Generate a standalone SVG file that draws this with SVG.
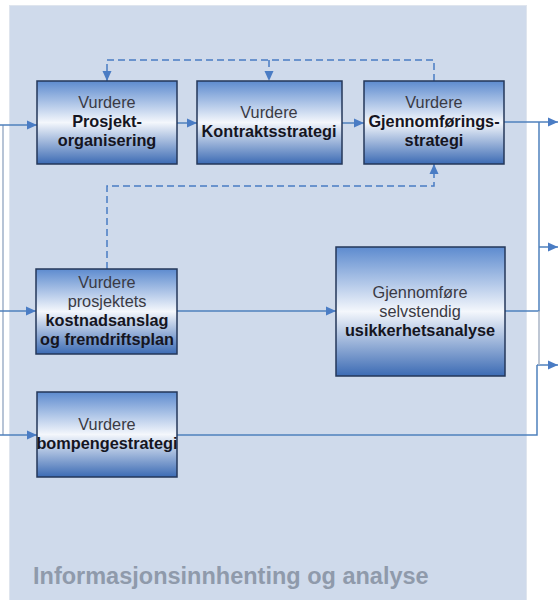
<svg xmlns="http://www.w3.org/2000/svg" width="559" height="600" viewBox="0 0 559 600">
<defs>
<linearGradient id="boxg" x1="0" y1="0" x2="0" y2="1">
<stop offset="0" stop-color="#5d8bcf"/>
<stop offset="0.5" stop-color="#f4f7fc"/>
<stop offset="1" stop-color="#3c6bb4"/>
</linearGradient>
<marker id="arr" markerUnits="userSpaceOnUse" markerWidth="11" markerHeight="11" refX="10" refY="5.5" orient="auto">
<path d="M0,1 L10,5.5 L0,10 z" fill="#4a7cc4"/>
</marker>
<style>
.box{fill:url(#boxg);stroke:#25375a;stroke-width:1.5}
.t{font-family:"Liberation Sans",Arial,sans-serif;font-size:16.3px;fill:#3a3a44;text-anchor:middle}
.b{font-weight:bold;fill:#15151f}
.c{fill:none;stroke:#4f81bd;stroke-width:1.5}
.d{fill:none;stroke:#4a7cc4;stroke-width:1.5;stroke-dasharray:7 4}
</style>
</defs>
<rect x="0" y="0" width="559" height="600" fill="#ffffff"/>
<rect x="9.5" y="5.5" width="517" height="600" fill="#cfdaeb" stroke="#dfe5ee" stroke-width="1"/>
<g id="connectors">
<path class="c" d="M3,125 V435" style="stroke:#9fb0c8"/>
<path class="c" d="M0,125 H37" marker-end="url(#arr)"/>
<path class="c" d="M0,311 H36" marker-end="url(#arr)"/>
<path class="c" d="M0,435 H37" marker-end="url(#arr)"/>
<path class="c" d="M177,123 H197" marker-end="url(#arr)"/>
<path class="c" d="M342,123 H364" marker-end="url(#arr)"/>
<path class="c" d="M504,122 H558" marker-end="url(#arr)"/>
<path class="c" d="M539,122 V311 H505"/>
<path class="c" d="M539,247 H558" marker-end="url(#arr)"/>
<path class="c" d="M177,311 H336" marker-end="url(#arr)"/>
<path class="c" d="M177,435 H537 V365"/>
<path class="c" d="M537,365 H558" marker-end="url(#arr)"/>
<path class="c" d="M539,311 V365" style="stroke:#a8b4c6"/>
<path class="d" d="M434,81 V60 H107 V81" marker-end="url(#arr)"/>
<path class="d" d="M269,60 V81" marker-end="url(#arr)"/>
<path class="d" d="M107,269 V186 H434 V164" marker-end="url(#arr)"/>
</g>
<g id="node-prosjektorganisering">
<rect class="box" x="37" y="81" width="140" height="83"/>
<text class="t" x="107" y="108">Vurdere</text>
<text class="t b" x="107" y="127">Prosjekt-</text>
<text class="t b" x="107" y="146">organisering</text>
</g>
<g id="node-kontraktsstrategi">
<rect class="box" x="197" y="81" width="145" height="83"/>
<text class="t" x="269" y="118">Vurdere</text>
<text class="t b" x="269" y="137">Kontraktsstrategi</text>
</g>
<g id="node-gjennomforingsstrategi">
<rect class="box" x="364" y="81" width="140" height="83"/>
<text class="t" x="434" y="108">Vurdere</text>
<text class="t b" x="434" y="127">Gjennomførings-</text>
<text class="t b" x="434" y="146">strategi</text>
</g>
<g id="node-kostnadsanslag">
<rect class="box" x="36" y="269" width="141" height="85"/>
<text class="t" x="107" y="288">Vurdere</text>
<text class="t" x="107" y="307">prosjektets</text>
<text class="t b" x="107" y="326">kostnadsanslag</text>
<text class="t b" x="107" y="345">og fremdriftsplan</text>
</g>
<g id="node-bompengestrategi">
<rect class="box" x="37" y="392" width="140" height="85"/>
<text class="t" x="107" y="430">Vurdere</text>
<text class="t b" x="107" y="449">bompengestrategi</text>
</g>
<g id="node-usikkerhetsanalyse">
<rect class="box" x="336" y="247" width="169" height="129"/>
<text class="t" x="420" y="298">Gjennomføre</text>
<text class="t" x="420" y="317">selvstendig</text>
<text class="t b" x="420" y="336">usikkerhetsanalyse</text>
</g>
<text x="33" y="584" font-family="'Liberation Sans',Arial,sans-serif" font-size="23.5" font-weight="bold" fill="#8f9aab">Informasjonsinnhenting og analyse</text>
</svg>
